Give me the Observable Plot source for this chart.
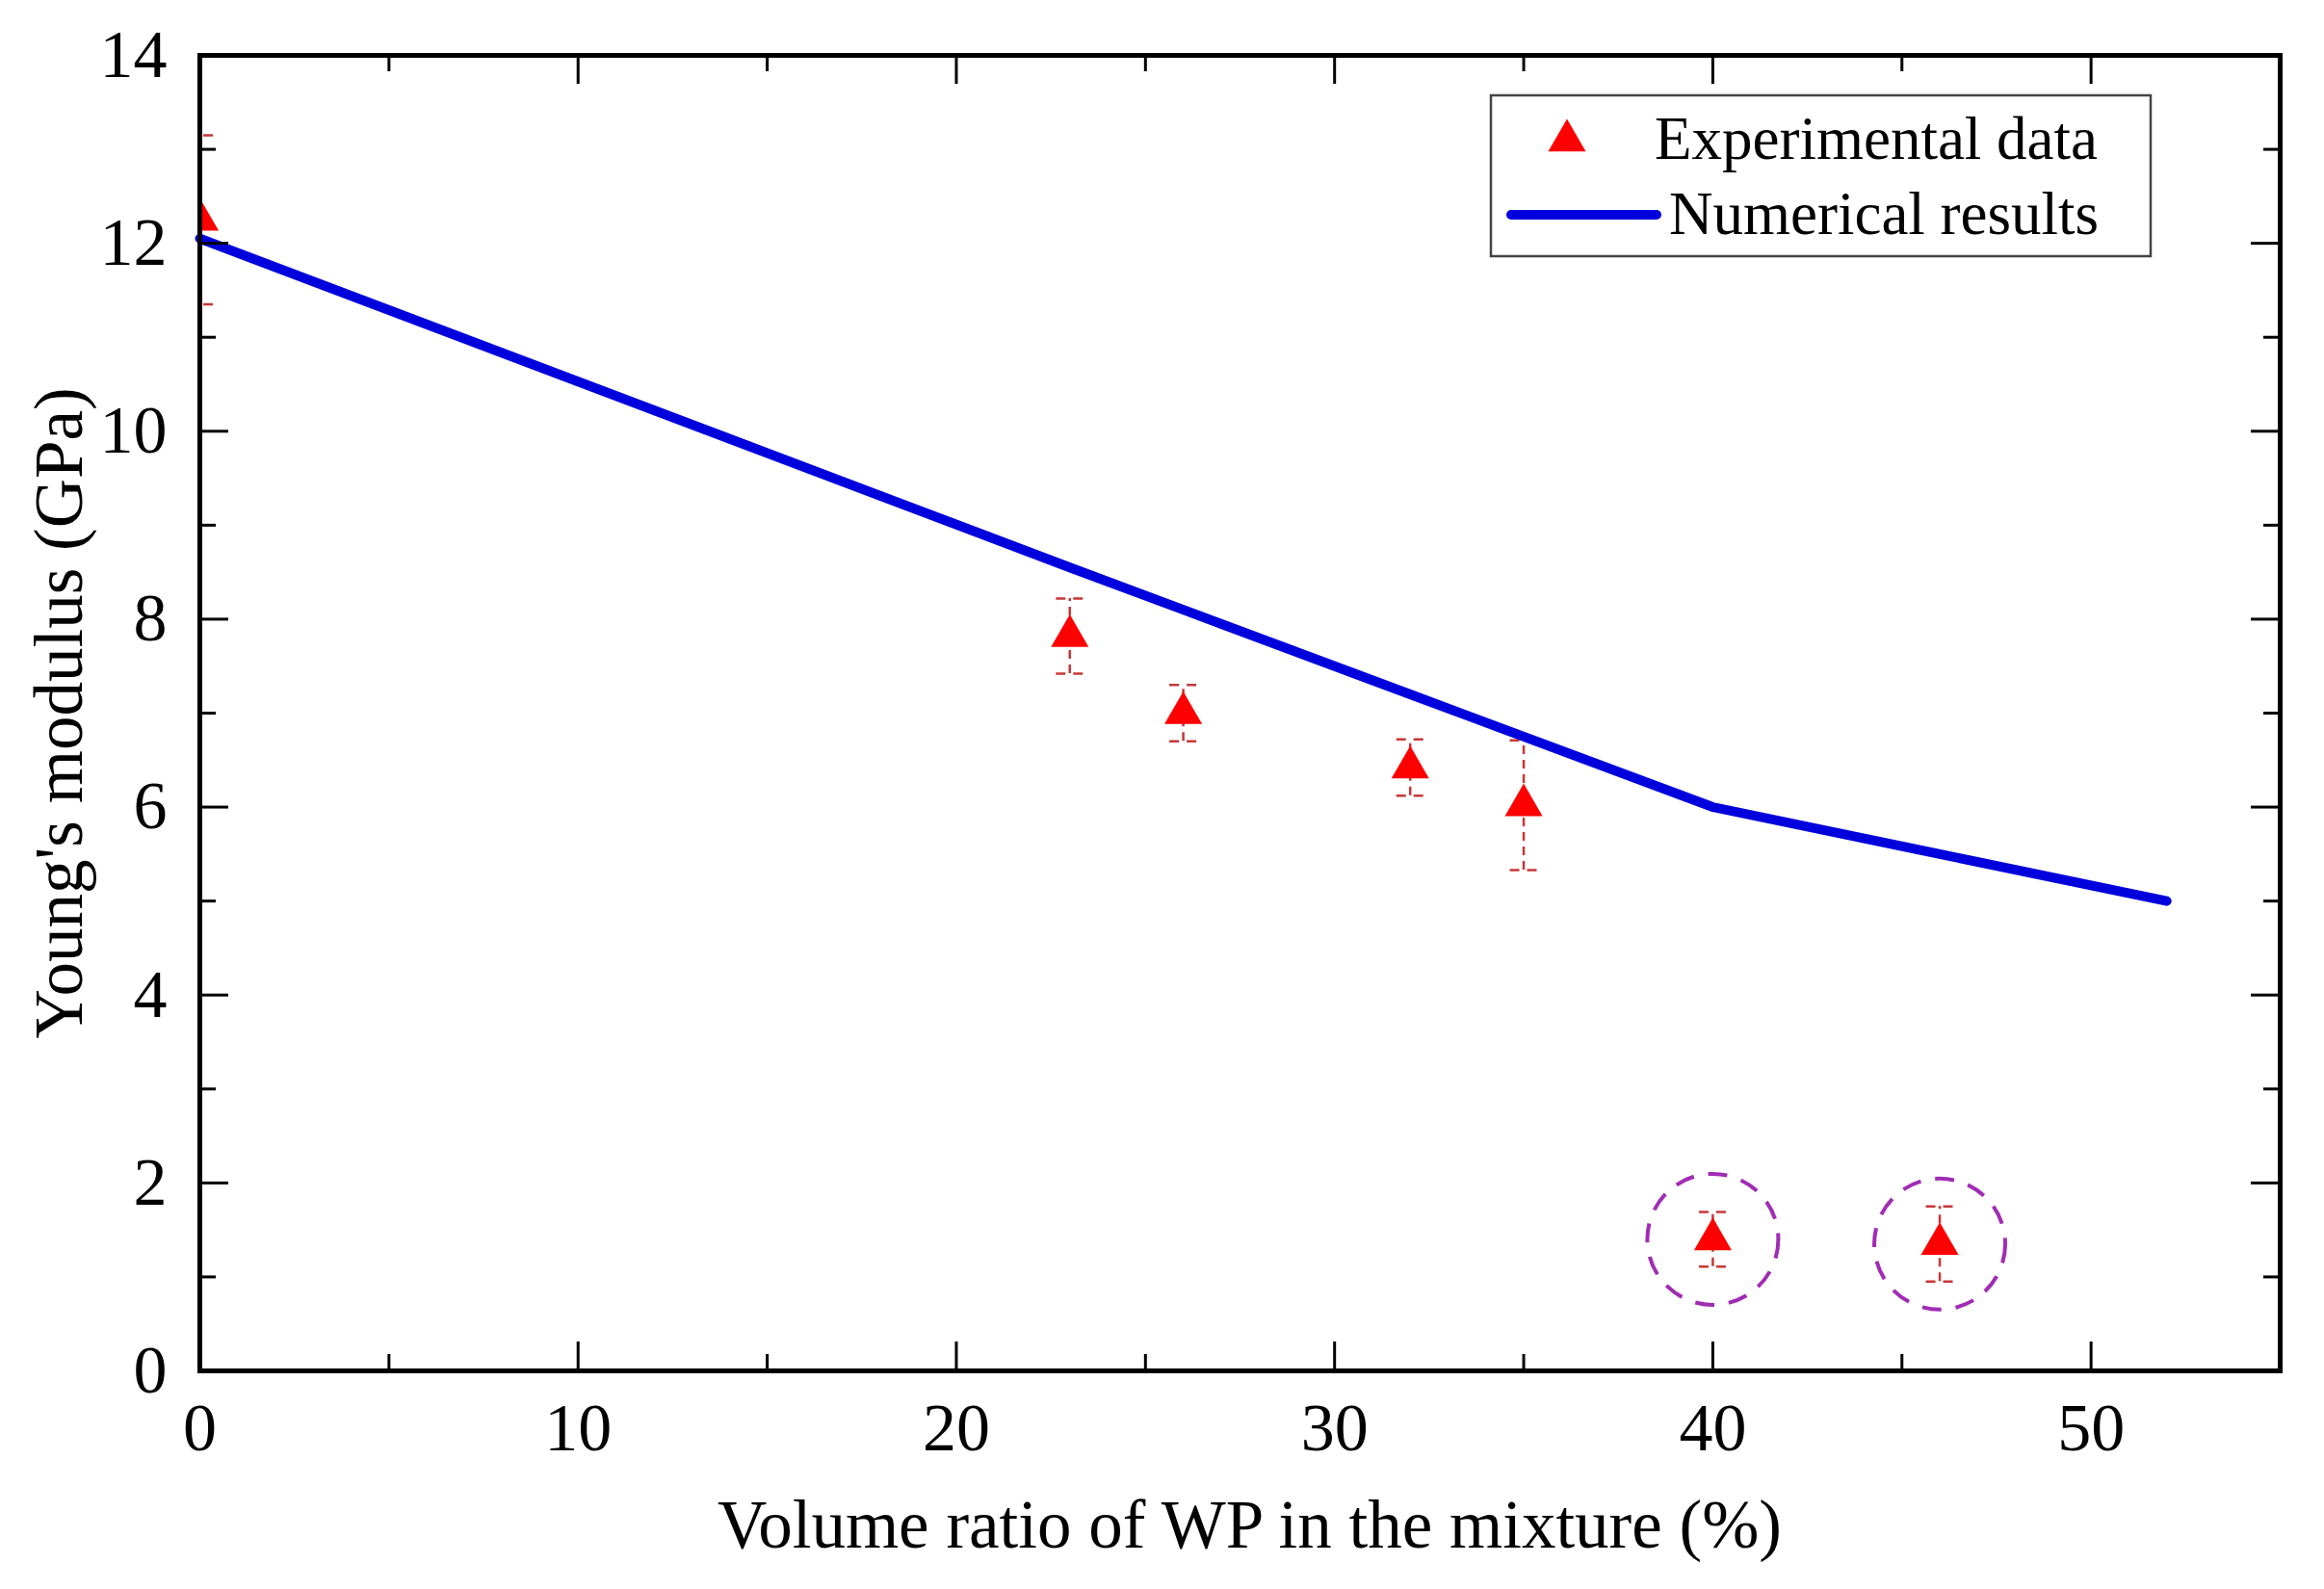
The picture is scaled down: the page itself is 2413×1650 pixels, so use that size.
<!DOCTYPE html>
<html>
<head>
<meta charset="utf-8">
<script src="https://cdn.jsdelivr.net/npm/d3@7"></script>
<script src="https://cdn.jsdelivr.net/npm/@observablehq/plot@0.6"></script>
<style>
  body { margin: 0; background: #fff; }
  #chart { position: relative; width: 2413px; height: 1650px; }
</style>
</head>
<body>
<div id="chart"></div>
<script>
// experimental points (triangles) with error bars
const expX = [0, 23, 26, 32, 35, 40, 46];
const expY = [12.25, 7.82, 7.0, 6.42, 6.02, 1.4, 1.35];
const expErr = [0.9, 0.4, 0.3, 0.3, 0.69, 0.29, 0.4];

// numerical results (blue line)
const numX = [0, 23, 26, 32, 35, 40, 46, 52];
const numY = [12.05, 8.55, 8.1, 7.2, 6.75, 6.0, 5.5, 5.0];

// points circled with dashed purple rings
const circledX = [40, 46];

// ticks
const xMajor = [0, 10, 20, 30, 40, 50];
const xMinor = [5, 15, 25, 35, 45];
const yMajor = [0, 2, 4, 6, 8, 10, 12, 14];
const yMinor = [1, 3, 5, 7, 9, 11, 13];

const W = 2413, H = 1650;
const mTop = 57, mRight = 46, mBottom = 227, mLeft = 207;
const FW = W - mLeft - mRight, FH = H - mTop - mBottom;

const exp = expX.map((x, i) => ({x, y: expY[i], lo: expY[i] - expErr[i], hi: expY[i] + expErr[i]}));
const num = numX.map((x, i) => ({x, y: numY[i]}));
const circled = exp.filter(d => circledX.includes(d.x));

const errColor = "#c83737";
const blue = "#0000dd";

let chart = Plot.plot({
  width: W,
  height: H,
  marginTop: mTop,
  marginRight: mRight,
  marginBottom: mBottom,
  marginLeft: mLeft,
  x: {domain: [0, 55]},
  y: {domain: [0, 14]},
  style: {fontFamily: "Liberation Serif", color: "black", background: "white"},
  marks: [
    // error bars
    Plot.ruleX(exp, {x: "x", y1: "lo", y2: "hi", stroke: errColor, strokeWidth: 2.5, strokeDasharray: "9,6", clip: true}),
    Plot.ruleY(exp, {y: "hi", x1: "x", x2: "x", insetLeft: -14, insetRight: -14, stroke: errColor, strokeWidth: 2.5, strokeDasharray: "10,8", clip: true}),
    Plot.ruleY(exp, {y: "lo", x1: "x", x2: "x", insetLeft: -14, insetRight: -14, stroke: errColor, strokeWidth: 2.5, strokeDasharray: "10,8", clip: true}),
    // numerical line
    Plot.line(num, {x: "x", y: "y", stroke: blue, strokeWidth: 10}),
    // experimental triangles
    Plot.dot(exp, {x: "x", y: "y", symbol: "triangle", r: 14.5, fill: "#ff0000", clip: true}),
    // dashed rings
    Plot.dot(circled, {x: "x", y: "y", r: 68, fill: "none", stroke: "#a02cb4", strokeWidth: 4, strokeDasharray: "20,15"}),
    // inward ticks, all four sides
    Plot.tickX(xMajor, {x: d => d, insetTop: FH - 30, stroke: "black", strokeWidth: 3}),
    Plot.tickX(xMinor, {x: d => d, insetTop: FH - 17, stroke: "black", strokeWidth: 3}),
    Plot.tickX(xMajor, {x: d => d, insetBottom: FH - 30, stroke: "black", strokeWidth: 3}),
    Plot.tickX(xMinor, {x: d => d, insetBottom: FH - 17, stroke: "black", strokeWidth: 3}),
    Plot.tickY(yMajor, {y: d => d, insetRight: FW - 30, stroke: "black", strokeWidth: 3}),
    Plot.tickY(yMinor, {y: d => d, insetRight: FW - 17, stroke: "black", strokeWidth: 3}),
    Plot.tickY(yMajor, {y: d => d, insetLeft: FW - 30, stroke: "black", strokeWidth: 3}),
    Plot.tickY(yMinor, {y: d => d, insetLeft: FW - 17, stroke: "black", strokeWidth: 3}),
    // tick labels
    Plot.axisX({ticks: xMajor, tickSize: 0, tickPadding: 33, fontSize: 70, label: null}),
    Plot.axisY({ticks: yMajor, tickSize: 0, tickPadding: 34, fontSize: 70, label: null}),
    // axis titles
    Plot.text(["Volume ratio of WP in the mixture (%)"], {frameAnchor: "bottom", textAnchor: "middle", lineAnchor: "middle", dx: 10, dy: 161, fontSize: 71}),
    Plot.text(["Young's modulus (GPa)"], {frameAnchor: "left", textAnchor: "middle", lineAnchor: "middle", dx: -145, rotate: -90, fontSize: 71}),
    Plot.frame({stroke: "black", strokeWidth: 5})
  ]
});

d3.select("#chart").append(() => chart);

// legend box drawn on top of the plot
const lg = d3.select("#chart").append("svg")
  .attr("width", W).attr("height", H)
  .style("position", "absolute").style("left", 0).style("top", 0)
  .style("font-family", "Liberation Serif");

lg.append("rect").attr("x", 1548).attr("y", 99).attr("width", 685).attr("height", 167)
  .attr("fill", "white").attr("stroke", "#444").attr("stroke-width", 2.5);

lg.append("path")
  .attr("d", d3.symbol(d3.symbolTriangle, Math.PI * 14.5 * 14.5)())
  .attr("transform", "translate(1627,146)")
  .attr("fill", "#ff0000");
lg.append("text").attr("x", 1718).attr("y", 165).attr("font-size", 63).text("Experimental data");

lg.append("line").attr("x1", 1569).attr("x2", 1720).attr("y1", 223).attr("y2", 223)
  .attr("stroke", blue).attr("stroke-width", 10).attr("stroke-linecap", "round");
lg.append("text").attr("x", 1733).attr("y", 243).attr("font-size", 63).text("Numerical results");
</script>
</body>
</html>
